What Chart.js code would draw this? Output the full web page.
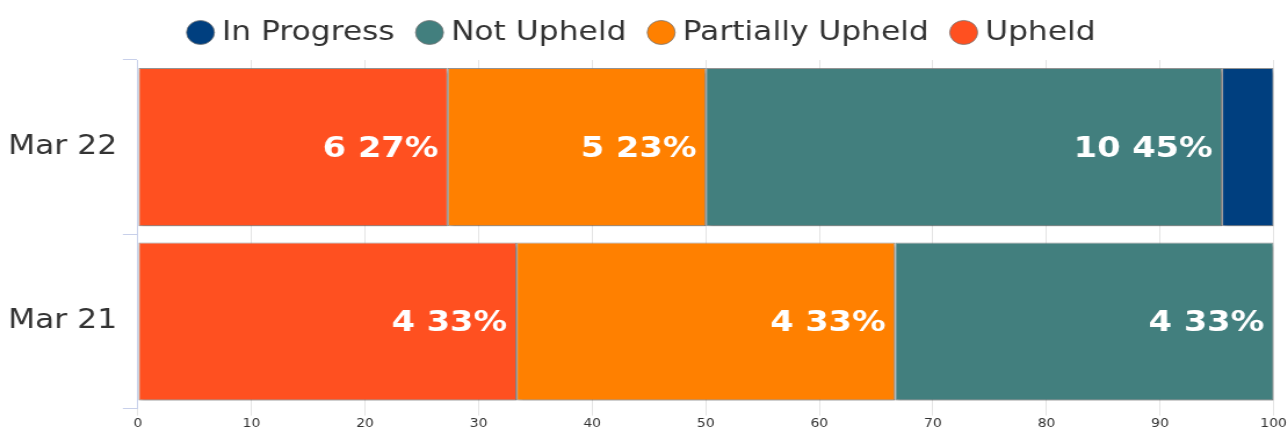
<!DOCTYPE html>
<html>
<head>
<meta charset="utf-8">
<script src="https://cdn.jsdelivr.net/npm/chart.js@4"></script>
<style>
  html, body { margin: 0; padding: 0; background: #fff; overflow: hidden; }
  /* 原圖水平方向略為拉伸 */
  #wrap { width: 1110px; height: 432px; transform: scaleX(1.1604); transform-origin: 0 0; }
</style>
</head>
<body>
<div id="wrap"><canvas id="complaintsChart"></canvas></div>
<script>
// 類別與各結果的件數
const periods = ['Mar 22', 'Mar 21'];
const upheld = [6, 4];
const partiallyUpheld = [5, 4];
const notUpheld = [10, 4];
const inProgress = [1, 0];

const totals = periods.map((p, i) => upheld[i] + partiallyUpheld[i] + notUpheld[i] + inProgress[i]);
const toPct = arr => arr.map((v, i) => v / totals[i] * 100);

const seriesCounts = [upheld, partiallyUpheld, notUpheld, inProgress];
const FONT = '"DejaVu Sans", Verdana, sans-serif';
const LEGEND_PAD = 25;
const LEGEND_TOP = 19 - LEGEND_PAD;

// 調整圖例高度（上方留白由負的 layout padding 抵銷）
const legendSpace = {
    id: 'legendSpace',
    beforeInit(chart) {
        const fit = chart.legend.fit;
        chart.legend.fit = function () {
            fit.bind(chart.legend)();
            this.height = 60 - LEGEND_TOP;
        };
    }
};

// 長條內的標籤：件數 + 百分比
const barLabels = {
    id: 'barLabels',
    beforeDatasetsDraw(chart) {
        const ctx = chart.ctx;
        ctx.save();
        ctx.shadowColor = 'rgba(0,0,0,0.25)';
        ctx.shadowOffsetX = 2;
        ctx.shadowOffsetY = 3;
        ctx.shadowBlur = 3;
    },
    afterDatasetsDraw(chart) {
        const ctx = chart.ctx;
        ctx.restore();
        ctx.save();
        ctx.font = 'bold 29px ' + FONT;
        ctx.fillStyle = '#ffffff';
        ctx.textAlign = 'right';
        ctx.textBaseline = 'middle';
        chart.data.datasets.forEach((ds, di) => {
            const meta = chart.getDatasetMeta(di);
            meta.data.forEach((bar, i) => {
                const pct = ds.data[i];
                if (pct < 10) return;
                const text = seriesCounts[di][i] + ' ' + Math.round(pct) + '%';
                ctx.fillText(text, bar.x - 8, bar.y + 2);
            });
        });
        ctx.restore();
    }
};

new Chart(document.getElementById('complaintsChart'), {
    type: 'bar',
    data: {
        labels: periods,
        datasets: [
            { label: 'Upheld', data: toPct(upheld), backgroundColor: '#ff5020' },
            { label: 'Partially Upheld', data: toPct(partiallyUpheld), backgroundColor: '#ff8000' },
            { label: 'Not Upheld', data: toPct(notUpheld), backgroundColor: '#427f7e' },
            { label: 'In Progress', data: toPct(inProgress), backgroundColor: '#003f7f' }
        ]
    },
    options: {
        indexAxis: 'y',
        responsive: true,
        maintainAspectRatio: false,
        animation: false,
        layout: { padding: { left: 2, right: 0, top: LEGEND_TOP, bottom: 0 } },
        datasets: {
            bar: {
                categoryPercentage: 0.907,
                barPercentage: 1,
                borderColor: 'rgba(120,120,120,0.8)',
                borderWidth: 1,
                borderSkipped: false
            }
        },
        plugins: {
            legend: {
                display: true,
                position: 'top',
                reverse: true,
                labels: {
                    usePointStyle: true,
                    pointStyle: 'circle',
                    boxHeight: 17,
                    boxWidth: 10,
                    font: { family: FONT, size: 27 },
                    color: '#333',
                    padding: LEGEND_PAD
                }
            },
            tooltip: { enabled: false }
        },
        scales: {
            x: {
                stacked: true,
                min: 0,
                max: 100,
                ticks: {
                    stepSize: 10,
                    color: '#333',
                    padding: 1,
                    font: { family: FONT, size: 12 }
                },
                grid: { color: '#e4e4e4', tickLength: 7 },
                border: { display: false }
            },
            y: {
                stacked: true,
                ticks: {
                    color: '#333',
                    padding: 5,
                    font: { family: FONT, size: 27 }
                },
                grid: { drawOnChartArea: false, color: '#c8d0ea', tickLength: 13 },
                border: { color: '#c8d0ea' }
            }
        }
    },
    plugins: [legendSpace, barLabels]
});
</script>
</body>
</html>
